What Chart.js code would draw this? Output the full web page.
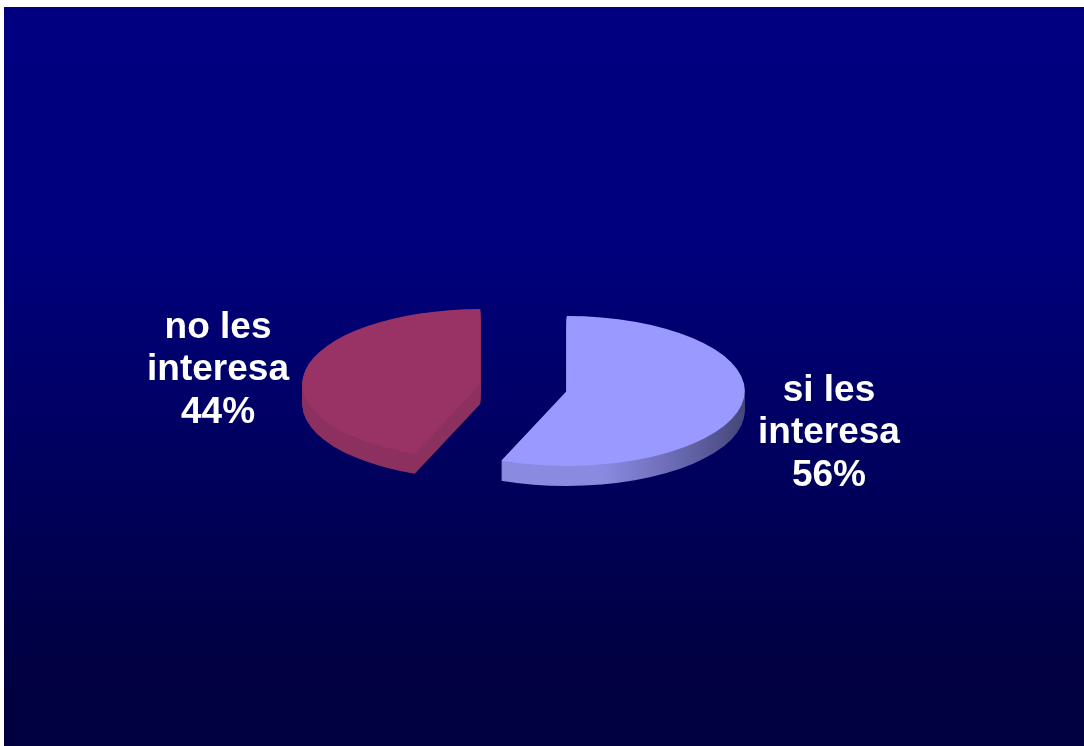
<!DOCTYPE html>
<html>
<head>
<meta charset="utf-8">
<script src="https://cdn.jsdelivr.net/npm/chart.js@4.4.0/dist/chart.umd.min.js"></script>
<style>
  body { margin: 0; background: #fff; }
  #marco { position: absolute; left: 4px; top: 7px; width: 1080px; height: 739px; }
</style>
</head>
<body>
<div id="marco"><canvas id="graficoInteres"></canvas></div>
<script>
// Datos de la encuesta
const categorias = [['si les', 'interesa'], ['no les', 'interesa']];
const porcentajes = [56, 44];
const colores = ['#9999ff', '#993366'];
// tonos del canto (claro -> oscuro)
const coloresCanto = [['#8a8ae0', '#6b6bb4', '#45457a'], ['#8c305f', '#7e2a55', '#6a2247']];

const ESCALA_Y = 0.421;   // achatamiento de la torta
const PROFUNDIDAD = 20;   // grosor del canto en px
const SEPARACION = 44;    // distancia de las porciones al centro

function centro(chart) {
    const a = chart.chartArea;
    return { cx: (a.left + a.right) / 2, cy: (a.top + a.bottom) / 2 };
}

function achatar(ctx, cy, dy) {
    ctx.translate(0, cy + dy);
    ctx.scale(1, ESCALA_Y);
    ctx.translate(0, -cy);
}

// Fondo degradado azul
const fondo = {
    id: 'fondo',
    beforeDraw(chart) {
        const { ctx, width, height } = chart;
        const g = ctx.createLinearGradient(0, 0, 0, height);
        g.addColorStop(0, '#000080');
        g.addColorStop(0.3, '#00007e');
        g.addColorStop(0.68, '#000058');
        g.addColorStop(0.86, '#000044');
        g.addColorStop(1, '#00003e');
        ctx.save();
        ctx.fillStyle = g;
        ctx.fillRect(0, 0, width, height);
        ctx.restore();
    }
};

// Torta 3D: separa las porciones, dibuja el canto y achata la cara superior
const torta3d = {
    id: 'torta3d',
    beforeDatasetsDraw(chart) {
        const ctx = chart.ctx;
        const { cx, cy } = centro(chart);
        const arcos = chart.getDatasetMeta(0).data;

        arcos.forEach(arco => {
            const medio = (arco.startAngle + arco.endAngle) / 2;
            arco.x = cx + Math.cos(medio) * SEPARACION;
            arco.y = cy + Math.sin(medio) * SEPARACION;
        });

        for (let k = PROFUNDIDAD; k >= 1; k--) {
            ctx.save();
            achatar(ctx, cy, k);
            arcos.forEach((arco, i) => {
                const r = arco.outerRadius;
                const g = ctx.createLinearGradient(arco.x - r, 0, arco.x + r, 0);
                g.addColorStop(0, coloresCanto[i][0]);
                g.addColorStop(0.6, coloresCanto[i][0]);
                g.addColorStop(0.8, coloresCanto[i][1]);
                g.addColorStop(1, coloresCanto[i][2]);
                ctx.beginPath();
                ctx.moveTo(arco.x, arco.y);
                ctx.arc(arco.x, arco.y, r, arco.startAngle, arco.endAngle);
                ctx.closePath();
                ctx.fillStyle = g;
                ctx.fill();
            });
            ctx.restore();
        }

        ctx.save();
        achatar(ctx, cy, 0);
    },
    afterDatasetsDraw(chart) {
        chart.ctx.restore();
    },
    afterDraw(chart) {
        // etiquetas con categoría y porcentaje
        const ctx = chart.ctx;
        const { cy } = centro(chart);
        const arcos = chart.getDatasetMeta(0).data;
        ctx.save();
        ctx.fillStyle = '#ffffff';
        ctx.font = 'bold 37px "Liberation Sans", Arial, sans-serif';
        ctx.textAlign = 'center';
        ctx.textBaseline = 'middle';
        arcos.forEach((arco, i) => {
            const medio = (arco.startAngle + arco.endAngle) / 2;
            const dist = arco.outerRadius + 89;
            const x = arco.x + Math.cos(medio) * dist;
            const y = cy + (arco.y - cy) * ESCALA_Y + Math.sin(medio) * dist * 0.56 + 14;
            const lineas = categorias[i].concat([porcentajes[i] + '%']);
            const alto = 42.5;
            lineas.forEach((txt, j) => {
                ctx.fillText(txt, x, y + (j - (lineas.length - 1) / 2) * alto);
            });
        });
        ctx.restore();
    }
};

const ctxInteres = document.getElementById('graficoInteres').getContext('2d');
new Chart(ctxInteres, {
    type: 'pie',
    data: {
        labels: categorias,
        datasets: [{
            data: porcentajes,
            backgroundColor: colores,
            borderWidth: 0,
            radius: 178,
            clip: false
        }]
    },
    options: {
        responsive: true,
        maintainAspectRatio: false,
        animation: false,
        events: [],
        layout: { padding: { left: 0, right: 41, top: 22, bottom: 0 } },
        plugins: {
            legend: { display: false },
            tooltip: { enabled: false }
        }
    },
    plugins: [fondo, torta3d]
});
</script>
</body>
</html>
